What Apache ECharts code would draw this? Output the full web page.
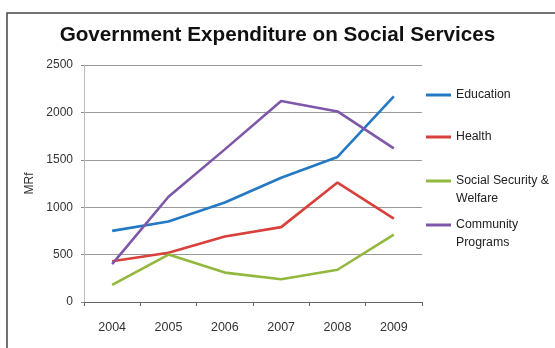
<!DOCTYPE html>
<html>
<head>
<meta charset="utf-8">
<script src="https://cdn.jsdelivr.net/npm/echarts@6/dist/echarts.min.js"></script>
<style>
  html, body { margin: 0; padding: 0; background: #fff; }
  #chart { width: 555px; height: 348px; }
</style>
</head>
<body>
<div id="chart"></div>
<script>
// data
const years = ['2004', '2005', '2006', '2007', '2008', '2009'];
const education = [750, 850, 1050, 1310, 1530, 2170];
const health = [430, 520, 690, 790, 1260, 880];
const socialSecurity = [180, 500, 310, 240, 340, 710];
const community = [400, 1110, 1610, 2120, 2010, 1620];

const seriesNames = ['Education', 'Health', 'Social Security & Welfare', 'Community Programs'];
// how the legend wraps the longer names
const legendLabels = ['Education', 'Health', '\nSocial Security &\nWelfare', '\nCommunity\nPrograms'];
const seriesData = [education, health, socialSecurity, community];
const colors = ['#2479c4', '#d8413b', '#92b83e', '#7e57a9'];

const font = '"Liberation Sans", Arial, sans-serif';

const chart = echarts.init(document.getElementById('chart'));

// one legend per item so each can sit at its own height
const legendTops = [86, 128, 154, 198];
const legends = seriesNames.map((name, i) => ({
  data: [name],
  left: 426,
  top: legendTops[i],
  padding: 0,
  orient: 'vertical',
  itemWidth: 25,
  itemHeight: 3,
  icon: 'rect',
  selectedMode: false,
  formatter: () => legendLabels[i],
  textStyle: {
    fontFamily: font,
    fontSize: 12.3,
    color: '#222',
    lineHeight: 18
  }
}));

const option = {
  animation: false,
  title: {
    text: 'Government Expenditure on Social Services',
    left: 'center',
    top: 20,
    textStyle: { fontFamily: font, fontSize: 20.7, fontWeight: 'bold', color: '#111' }
  },
  legend: legends,
  grid: { left: 84, top: 65, width: 338, height: 237 },
  xAxis: {
    type: 'category',
    data: years,
    boundaryGap: true,
    axisLine: { lineStyle: { color: '#666', width: 1 } },
    axisTick: { show: true, length: 4, lineStyle: { color: '#666' } },
    axisLabel: { fontFamily: font, fontSize: 12.5, color: '#333', margin: 19 }
  },
  yAxis: {
    type: 'value',
    min: 0,
    max: 2500,
    interval: 500,
    name: 'MRf',
    nameLocation: 'middle',
    nameGap: 46,
    nameTextStyle: { fontFamily: font, fontSize: 12, color: '#333' },
    axisLine: { show: true, lineStyle: { color: '#bbb' } },
    axisTick: { show: true, length: 3, lineStyle: { color: '#888' } },
    axisLabel: { fontFamily: font, fontSize: 12, color: '#333', margin: 11, formatter: v => String(v) },
    splitLine: { lineStyle: { color: '#999', width: 1 } }
  },
  graphic: [{
    type: 'rect',
    shape: { x: 7, y: 13, width: 600, height: 400 },
    style: { fill: 'none', stroke: '#444', lineWidth: 1.5 },
    silent: true
  }],
  series: seriesNames.map((name, i) => ({
    name: name,
    type: 'line',
    data: seriesData[i],
    symbol: 'none',
    color: colors[i],
    lineStyle: { width: 2.6, color: colors[i] }
  }))
};

chart.setOption(option);
</script>
</body>
</html>
